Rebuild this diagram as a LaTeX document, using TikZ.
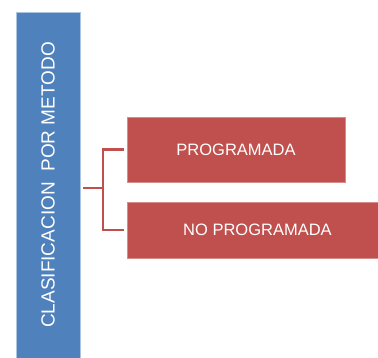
\documentclass[tikz,border=0pt]{standalone}
\usepackage{fontspec}
\setmainfont{Liberation Sans}
\definecolor{azul}{RGB}{79,129,189}
\definecolor{azulclaro}{RGB}{170,196,226}
\definecolor{rojo}{RGB}{192,80,77}
\definecolor{rojoclaro}{RGB}{214,140,138}
\tikzset{metodo/.style = {draw=azulclaro, line width=0.8, fill=azul, text=white, inner sep=0, minimum width=346, minimum height=64, font=\fontsize{19}{22}\selectfont}}
\tikzset{tipo/.style = {draw=rojoclaro, line width=0.6, fill=rojo, text=white, inner sep=0, font=\fontsize{16.5}{20}\selectfont}}
\tikzset{enlace/.style = {draw=rojo, line width=2.2, line join=miter}}

\begin{document}
\begin{tikzpicture}[x=1pt, y=1pt]
    \useasboundingbox (0, 0) rectangle (378, 358);

    \node [metodo, rotate=90] (clasif) at (48, 173) {CLASIFICACION\ \ POR METODO};

    \node [tipo, minimum width=218, minimum height=65] (prog) at (236, 208.5) {PROGRAMADA};
    \node [tipo, minimum width=251, minimum height=56] (noprog) at (252.5, 128) {\hspace{10pt}NO PROGRAMADA};

    \coordinate (raiz) at (83, 170);
    \coordinate (nudo) at (103, 170);
    \draw [enlace] (raiz) -- (nudo);
    \draw [enlace] ([xshift=-3]prog.west) -| (nudo) |- ([xshift=-3]noprog.west);
  \end{tikzpicture}
\end{document}
